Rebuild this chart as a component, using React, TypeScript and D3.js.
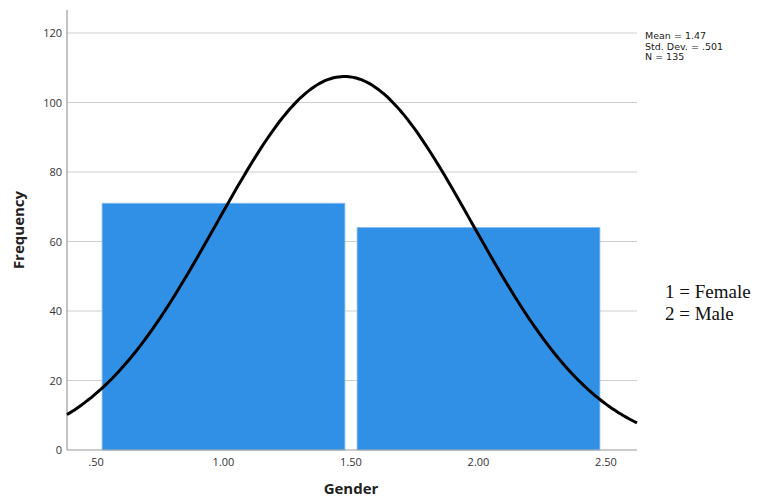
import React from "react";
import * as d3 from "d3";

const binStarts = [0.5, 1.5];
const binEnds = [1.5, 2.5];
const frequencies = [71, 64];
const yTicks = [0, 20, 40, 60, 80, 100, 120];
const xTicks = [0.5, 1.0, 1.5, 2.0, 2.5];
const xTickLabels = [".50", "1.00", "1.50", "2.00", "2.50"];
const statsLines = ["Mean = 1.47", "Std. Dev. = .501", "N = 135"];
const legendLines = ["1 = Female", "2 = Male"];
const mean = 1.474;
const sd = 0.501;
const n = 135;

export default function App() {
  const W = 758, H = 499;
  const left = 67, right = 637, top = 10, bottom = 450;
  const x = d3.scaleLinear().domain([0.5, 2.5]).range([96, 606]);
  const xMin = x.invert(left), xMax = x.invert(right);
  const y = d3.scaleLinear().domain([0, 120]).range([bottom, 33]);
  const gap = 0.024;

  const curvePts: [number, number][] = d3.range(0, 201).map((i) => {
    const v = xMin + ((xMax - xMin) * i) / 200;
    const pdf = Math.exp(-0.5 * ((v - mean) / sd) ** 2) / (sd * Math.sqrt(2 * Math.PI));
    return [v, n * pdf];
  });
  const line = d3.line<[number, number]>().x((d) => x(d[0])).y((d) => y(d[1])).curve(d3.curveBasis);

  const font = "'Open Sans', 'DejaVu Sans', sans-serif";

  return (
    <svg width={W} height={H} style={{ position: "absolute", left: 0, top: 0 }}>
      <rect x={0} y={0} width={W} height={H} fill="#fff" />
      {yTicks.map((t) =>
        t > 0 ? (
          <line key={"g" + t} x1={left} x2={right} y1={y(t)} y2={y(t)} stroke="#cfcfcf" strokeWidth={1} />
        ) : null
      )}
      {frequencies.map((f, i) => (
        <rect
          key={i}
          x={x(binStarts[i] + gap)}
          y={y(f)}
          width={x(binEnds[i] - gap) - x(binStarts[i] + gap)}
          height={y(0) - y(f)}
          fill="#3090e6"
          stroke="#7fb8ef"
          strokeWidth={0.8}
        />
      ))}
      <line x1={left} x2={left} y1={top} y2={bottom} stroke="#9a9a9a" strokeWidth={1.2} />
      <line x1={left} x2={right} y1={bottom} y2={bottom} stroke="#9a9a9a" strokeWidth={1.2} />
      <path d={line(curvePts) || ""} fill="none" stroke="#000" strokeWidth={3} />
      {yTicks.map((t) => (
        <text key={"y" + t} x={62} y={y(t) + 4} textAnchor="end" fontSize={11} fill="#333" fontFamily={font}>
          {t}
        </text>
      ))}
      {xTicks.map((t, i) => (
        <text key={"x" + t} x={x(t)} y={466} textAnchor="middle" fontSize={11} fill="#333" fontFamily={font}>
          {xTickLabels[i]}
        </text>
      ))}
      <text
        transform={`translate(24,230) rotate(-90)`}
        textAnchor="middle"
        fontSize={15}
        fontWeight="bold"
        fill="#222"
        fontFamily={font}
      >
        Frequency
      </text>
      <text x={351} y={494} textAnchor="middle" fontSize={15} fontWeight="bold" fill="#222" fontFamily={font}>
        Gender
      </text>
      {statsLines.map((s, i) => (
        <text key={s} x={645} y={39 + i * 10.5} fontSize={9.5} fill="#222" fontFamily="'DejaVu Sans', sans-serif">
          {s}
        </text>
      ))}
      {legendLines.map((s, i) => (
        <text key={s} x={665} y={298 + i * 22} fontSize={19} fill="#111" fontFamily="'Liberation Serif', 'DejaVu Serif', serif">
          {s}
        </text>
      ))}
    </svg>
  );
}
